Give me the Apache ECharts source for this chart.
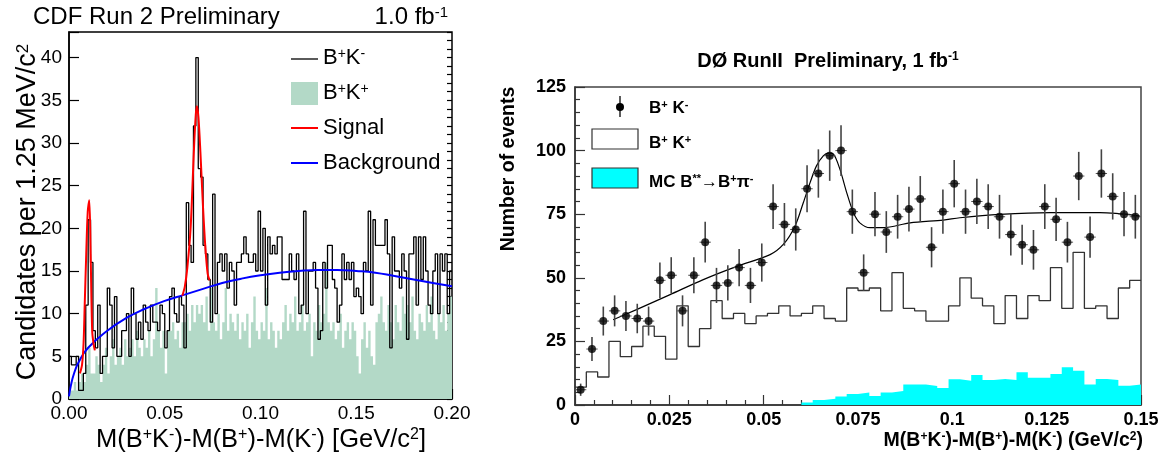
<!DOCTYPE html>
<html>
<head>
<meta charset="utf-8">
<script src="https://cdn.jsdelivr.net/npm/echarts@6/dist/echarts.min.js"></script>
<style>
html, body { margin: 0; padding: 0; background: #fff; }
#main { width: 1175px; height: 459px; }
</style>
</head>
<body>
<div id="main"></div>
<script>
// ---- CDF panel (left) ----
var cdfBinWidth = 0.00125;
// B+K- candidates per bin
var cdfBKminus = [
    5, 4, 4, 5, 1, 1, 3, 11, 21, 16,
    8, 6, 11, 3, 5, 5, 13, 11, 6, 12,
    5, 5, 8, 8, 10, 5, 13, 10, 7, 9,
    7, 11, 9, 8, 11, 9, 9, 8, 11, 10,
    6, 8, 12, 13, 10, 9, 12, 11, 6, 23,
    18, 16, 32, 40, 27, 26, 18, 17, 14, 9,
    24, 10, 16, 17, 15, 17, 13, 16, 15, 11,
    16, 16, 17, 19, 17, 16, 16, 17, 15, 22,
    15, 20, 11, 19, 17, 18, 17, 19, 19, 14,
    14, 14, 17, 15, 14, 17, 10, 11, 22, 10,
    15, 15, 16, 13, 7, 8, 16, 13, 18, 18,
    14, 13, 9, 11, 17, 14, 16, 14, 16, 12,
    13, 12, 10, 16, 15, 22, 11, 21, 18, 18,
    18, 18, 21, 17, 6, 19, 15, 15, 13, 17,
    15, 7, 17, 17, 19, 11, 19, 14, 19, 15,
    11, 10, 15, 17, 10, 17, 15, 17, 10, 15
];
// B+K+ (wrong sign) per bin
var cdfBKplus = [
    1, 1, 2, 1, 2, 3, 2, 4, 6, 3,
    3, 5, 4, 2, 4, 6, 3, 5, 7, 4,
    5, 6, 4, 7, 5, 6, 7, 5, 8, 6,
    5, 7, 6, 8, 5, 7, 13, 8, 6, 8,
    3, 8, 8, 9, 7, 8, 6, 9, 9, 10,
    8, 11, 9, 11, 10, 11, 9, 12, 8, 13,
    9, 8, 10, 7, 9, 13, 8, 10, 9, 8,
    10, 7, 9, 8, 10, 6, 9, 12, 8, 7,
    9, 8, 13, 7, 9, 8, 6, 8, 7, 9,
    11, 8, 10, 9, 12, 8, 9, 11, 8, 9,
    10, 5, 9, 8, 11, 9, 10, 16, 9, 8,
    9, 7, 8, 10, 6, 8, 9, 7, 9, 8,
    5, 3, 7, 9, 6, 8, 5, 4, 9, 10,
    12, 9, 8, 11, 9, 7, 11, 9, 8, 12,
    10, 11, 9, 12, 8, 7, 10, 9, 8, 11,
    9, 12, 8, 7, 10, 9, 11, 8, 10, 12
];
// signal + background fit around the two peaks
var cdfSig1X = [0.0057, 0.0068, 0.0076, 0.0082, 0.0090, 0.0098, 0.0106, 0.0113, 0.0121, 0.0128, 0.0135];
var cdfSig1Y = [3.0, 4.0, 6.5, 11, 17, 22, 23.3, 17, 8, 6.5, 5.7];
var cdfSig2X = [0.0592, 0.0605, 0.0618, 0.0635, 0.0653, 0.0662, 0.0668, 0.0676, 0.0686, 0.0700, 0.0712, 0.0724, 0.0734];
var cdfSig2Y = [12.1, 13.2, 15.4, 20, 29.5, 33.3, 34.3, 33, 29, 22.4, 17.8, 14.7, 13.9];
// background fit
var cdfBkgX = [0, 0.001, 0.0025, 0.005, 0.01, 0.02, 0.03, 0.04, 0.05, 0.06, 0.07, 0.08, 0.09, 0.10, 0.11, 0.12, 0.13, 0.14, 0.15, 0.16, 0.17, 0.18, 0.19, 0.20];
var cdfBkgY = [0.3, 1.6, 2.9, 4.3, 6.0, 8.0, 9.5, 10.6, 11.5, 12.2, 12.9, 13.6, 14.1, 14.5, 14.8, 15.0, 15.1, 15.1, 15.0, 14.8, 14.4, 14.0, 13.6, 13.2];

// ---- D0 panel (right) ----
var d0BinWidth = 0.003;
var d0BKminus = [
    6, 22, 33, 37, 35, 34, 33, 49, 51, 37,
    51, 64, 47, 48, 54, 47, 56, 78, 71, 69,
    85, 91, 98, 100, 76, 52, 75, 68, 74, 77,
    81, 62, 76, 87, 76, 80, 78, 74, 67, 63,
    61, 78, 73, 64, 90, 66, 91, 82, 75, 74
];
var d0Errors = [
    2.4, 4.7, 5.7, 6.1, 5.9, 5.8, 5.7, 7.0, 7.1, 6.1,
    7.1, 8.0, 6.9, 6.9, 7.3, 6.9, 7.5, 8.8, 8.4, 8.3,
    9.2, 9.5, 9.9, 10, 8.7, 7.2, 8.7, 8.2, 8.6, 8.8,
    9.0, 7.9, 8.7, 9.3, 8.7, 8.9, 8.8, 8.6, 8.2, 7.9,
    7.8, 8.8, 8.5, 8.0, 9.5, 8.1, 9.5, 9.1, 8.7, 8.6
];
var d0BKplus = [
    7, 13, 11, 25, 19, 23, 31, 27, 18, 39,
    23, 30, 41, 34, 36, 32, 35, 36, 39, 35,
    36, 39, 34, 33, 46, 45, 46, 37, 52, 38,
    37, 33, 33, 39, 50, 42, 39, 32, 43, 34,
    43, 41, 54, 38, 60, 38, 39, 34, 46, 49
];
var d0McBstar = [
    0, 0, 0, 0, 0, 0, 0, 0, 0, 0,
    0, 0, 0, 0, 0, 0, 0, 0, 0, 0,
    1, 2, 2.5, 3.3, 4.3, 4.9, 3.5, 4.9, 5.5, 8.1,
    8.1, 7.5, 6.7, 10.1, 9.5, 11.8, 9.8, 10.2, 9.8, 12.9,
    10.7, 10.7, 12.2, 14.8, 13.5, 8.1, 10.2, 9.8, 7.6, 8.1
];
var d0FitX = [0.0101, 0.0163, 0.0252, 0.034, 0.0429, 0.0517, 0.0552, 0.0583, 0.0605, 0.0623, 0.064, 0.0658, 0.0671, 0.0685, 0.0702, 0.072, 0.0738, 0.0755, 0.0782, 0.0817, 0.0888, 0.0976, 0.102, 0.1126, 0.1259, 0.1391, 0.1497];
var d0FitY = [33.5, 37.5, 43.4, 49.3, 54.5, 59.1, 63.1, 70.3, 79.5, 87.4, 94, 97.9, 99, 98.6, 92.7, 83.5, 75.6, 71.6, 69.7, 69.7, 71.6, 72.7, 73.6, 74.9, 75.6, 75.6, 74.3];

var FONT = 'Liberation Sans';

function stepPoints(binWidth, vals) {
    var pts = [];
    for (var i = 0; i < vals.length; i++) pts.push([i * binWidth, vals[i]]);
    pts.push([vals.length * binWidth, vals[vals.length - 1]]);
    return pts;
}
function zip(xs, ys) {
    return xs.map(function (x, i) { return [x, ys[i]]; });
}
function supRich(size, weight) {
    return { s: { fontSize: size, fontFamily: FONT, fontWeight: weight, verticalAlign: 'top', fill: '#000' } };
}
function label(x, y, text, size, weight, extra) {
    var el = {
        type: 'text', x: x, y: y, z: 100,
        style: {
            text: text, fontSize: size, fontFamily: FONT, fontWeight: weight, fill: '#000',
            align: 'left', verticalAlign: 'middle',
            rich: supRich(Math.round(size * 0.62), weight)
        }
    };
    if (extra) {
        for (var k in extra) {
            if (k === 'style') { for (var s in extra.style) el.style[s] = extra.style[s]; }
            else el[k] = extra[k];
        }
    }
    return el;
}

var d0Points = d0BKminus.map(function (v, i) { return [(i + 0.5) * d0BinWidth, v, d0Errors[i]]; });

var chart = echarts.init(document.getElementById('main'));

var option = {
    animation: false,
    grid: [
        { left: 69, top: 32, width: 383, height: 367, show: true, borderColor: '#000', borderWidth: 1.5, containLabel: false },
        { left: 575, top: 87, width: 566, height: 318, show: true, borderColor: '#444', borderWidth: 1.5, containLabel: false }
    ],
    xAxis: [
        {
            gridIndex: 0, type: 'value', min: 0, max: 0.2, interval: 0.05,
            axisLine: { lineStyle: { color: '#000', width: 1.5 } },
            axisTick: { inside: true, length: 10, lineStyle: { color: '#000', width: 1.2 } },
            minorTick: { show: true, splitNumber: 5, length: 5, lineStyle: { color: '#000', width: 1.2 } },
            splitLine: { show: false },
            axisLabel: { color: '#000', fontSize: 19, fontFamily: FONT, margin: 5, formatter: function (v) { return v.toFixed(2); } }
        },
        {
            gridIndex: 1, type: 'value', min: 0, max: 0.15, interval: 0.025,
            axisLine: { lineStyle: { color: '#333', width: 1.5 } },
            axisTick: { inside: true, length: 10, lineStyle: { color: '#333', width: 1.2 } },
            minorTick: { show: true, splitNumber: 5, length: 5, lineStyle: { color: '#333', width: 1.2 } },
            splitLine: { show: false },
            axisLabel: { color: '#000', fontSize: 18, fontWeight: 'bold', fontFamily: FONT, margin: 6 }
        }
    ],
    yAxis: [
        {
            gridIndex: 0, type: 'value', min: 0, max: 43, interval: 5,
            axisLine: { lineStyle: { color: '#000', width: 1.5 } },
            axisTick: { inside: true, length: 10, lineStyle: { color: '#000', width: 1.2 } },
            splitLine: { show: false },
            axisLabel: { color: '#000', fontSize: 19, fontFamily: FONT, margin: 7, formatter: function (v) { return v % 5 === 0 ? String(v) : ''; } }
        },
        {
            // minor ticks every 1 unit
            gridIndex: 0, type: 'value', min: 0, max: 43, interval: 1,
            axisLine: { show: false },
            axisTick: { inside: true, length: 5, lineStyle: { color: '#000', width: 1.2 } },
            splitLine: { show: false },
            axisLabel: { show: false }
        },
        {
            gridIndex: 1, type: 'value', min: 0, max: 125, interval: 25,
            axisLine: { lineStyle: { color: '#333', width: 1.5 } },
            axisTick: { inside: true, length: 10, lineStyle: { color: '#333', width: 1.2 } },
            minorTick: { show: true, splitNumber: 5, length: 5, lineStyle: { color: '#333', width: 1.2 } },
            splitLine: { show: false },
            axisLabel: { color: '#000', fontSize: 18, fontWeight: 'bold', fontFamily: FONT, margin: 9 }
        }
    ],
    series: [
        {
            name: 'B+K+ (CDF)', type: 'line', xAxisIndex: 0, yAxisIndex: 0, step: 'end',
            data: stepPoints(cdfBinWidth, cdfBKplus), symbol: 'none',
            lineStyle: { width: 0 }, areaStyle: { color: '#b3d9c7', opacity: 1 }, z: 1
        },
        {
            name: 'B+K- (CDF)', type: 'line', xAxisIndex: 0, yAxisIndex: 0, step: 'end',
            data: stepPoints(cdfBinWidth, cdfBKminus), symbol: 'none',
            lineStyle: { color: '#000', width: 1.3 }, z: 3
        },
        {
            name: 'Background', type: 'line', xAxisIndex: 0, yAxisIndex: 0, smooth: 0.5,
            data: zip(cdfBkgX, cdfBkgY), symbol: 'none',
            lineStyle: { color: '#0000ff', width: 2 }, z: 4
        },
        {
            name: 'Signal', type: 'line', xAxisIndex: 0, yAxisIndex: 0, smooth: 0.3,
            data: zip(cdfSig1X, cdfSig1Y), symbol: 'none',
            lineStyle: { color: '#ff0000', width: 2 }, z: 5
        },
        {
            name: 'Signal', type: 'line', xAxisIndex: 0, yAxisIndex: 0, smooth: 0.3,
            data: zip(cdfSig2X, cdfSig2Y), symbol: 'none',
            lineStyle: { color: '#ff0000', width: 2 }, z: 5
        },
        {
            name: 'MC B** -> B+pi-', type: 'line', xAxisIndex: 1, yAxisIndex: 2, step: 'end',
            data: stepPoints(d0BinWidth, d0McBstar), symbol: 'none',
            lineStyle: { width: 0 }, areaStyle: { color: '#00ffff', opacity: 1 }, z: 1
        },
        {
            name: 'B+K+ (D0)', type: 'line', xAxisIndex: 1, yAxisIndex: 2, step: 'end',
            data: stepPoints(d0BinWidth, d0BKplus), symbol: 'none',
            lineStyle: { color: '#333', width: 1.3 }, z: 2
        },
        {
            name: 'Fit', type: 'line', xAxisIndex: 1, yAxisIndex: 2, smooth: 0.3,
            data: zip(d0FitX, d0FitY), symbol: 'none',
            lineStyle: { color: '#000', width: 1.2 }, z: 3
        },
        {
            name: 'errors', type: 'custom', xAxisIndex: 1, yAxisIndex: 2,
            data: d0Points, encode: { x: 0, y: 1 }, z: 4,
            renderItem: function (params, api) {
                var x = api.value(0), y = api.value(1), e = api.value(2);
                var top = api.coord([x, y + e]);
                var bot = api.coord([x, y - e]);
                var l = api.coord([x - d0BinWidth / 2, y]);
                var r = api.coord([x + d0BinWidth / 2, y]);
                return {
                    type: 'group',
                    children: [
                        { type: 'line', shape: { x1: top[0], y1: top[1], x2: bot[0], y2: bot[1] }, style: { stroke: '#444', lineWidth: 1.6 } },
                        { type: 'line', shape: { x1: l[0], y1: l[1], x2: r[0], y2: r[1] }, style: { stroke: '#555', lineWidth: 1 } }
                    ]
                };
            }
        },
        {
            name: 'B+K- (D0)', type: 'scatter', xAxisIndex: 1, yAxisIndex: 2,
            data: d0Points.map(function (p) { return [p[0], p[1]]; }),
            symbol: 'circle', symbolSize: 8, itemStyle: { color: '#000' }, z: 5
        }
    ],
    graphic: [
        // CDF texts
        label(33, 17, 'CDF Run 2 Preliminary', 24, 'normal'),
        label(448, 17, '1.0 fb{s|-1}', 24, 'normal', { style: { align: 'right' } }),
        label(261, 440, 'M(B{s|+}K{s|-})-M(B{s|+})-M(K{s|-}) [GeV/c{s|2}]', 25.5, 'normal', { style: { align: 'center' } }),
        label(28, 212, 'Candidates per 1.25 MeV/c{s|2}', 27, 'normal', { rotation: Math.PI / 2, style: { align: 'center' } }),
        // CDF legend
        { type: 'line', z: 100, shape: { x1: 291, y1: 59, x2: 318, y2: 59 }, style: { stroke: '#000', lineWidth: 1.3 } },
        label(323, 58, 'B{s|+}K{s|-}', 22, 'normal'),
        { type: 'rect', z: 100, shape: { x: 291, y: 82, width: 27, height: 23 }, style: { fill: '#b3d9c7' } },
        label(323, 93, 'B{s|+}K{s|+}', 22, 'normal'),
        { type: 'line', z: 100, shape: { x1: 291, y1: 128, x2: 318, y2: 128 }, style: { stroke: '#ff0000', lineWidth: 2 } },
        label(323, 128, 'Signal', 22, 'normal'),
        { type: 'line', z: 100, shape: { x1: 291, y1: 163, x2: 318, y2: 163 }, style: { stroke: '#0000ff', lineWidth: 2 } },
        label(323, 163, 'Background', 22, 'normal'),
        // D0 texts
        label(828, 61, 'D\u00d8 RunII  Preliminary, 1 fb{s|-1}', 20, 'bold', { style: { align: 'center' } }),
        label(509, 169, 'Number of events', 19.5, 'bold', { rotation: Math.PI / 2, style: { align: 'center' } }),
        label(1143, 441, 'M(B{s|+}K{s|-})-M(B{s|+})-M(K{s|-}) (GeV/c{s|2})', 19.5, 'bold', { style: { align: 'right' } }),
        // D0 legend
        { type: 'line', z: 100, shape: { x1: 620, y1: 96, x2: 620, y2: 117 }, style: { stroke: '#333', lineWidth: 1.6 } },
        { type: 'circle', z: 100, shape: { cx: 620, cy: 107, r: 4 }, style: { fill: '#000' } },
        label(649, 108, 'B{s|+} K{s|-}', 17, 'bold'),
        { type: 'rect', z: 100, shape: { x: 592, y: 129, width: 46, height: 20 }, style: { fill: '#fff', stroke: '#333', lineWidth: 1.2 } },
        label(649, 143, 'B{s|+} K{s|+}', 17, 'bold'),
        { type: 'rect', z: 100, shape: { x: 592, y: 168, width: 46, height: 20 }, style: { fill: '#00ffff', stroke: '#333', lineWidth: 1.2 } },
        label(649, 182, 'MC B{s|**}\u2192B{s|+}\u03c0{s|-}', 17, 'bold')
    ]
};

chart.setOption(option);
</script>
</body>
</html>
